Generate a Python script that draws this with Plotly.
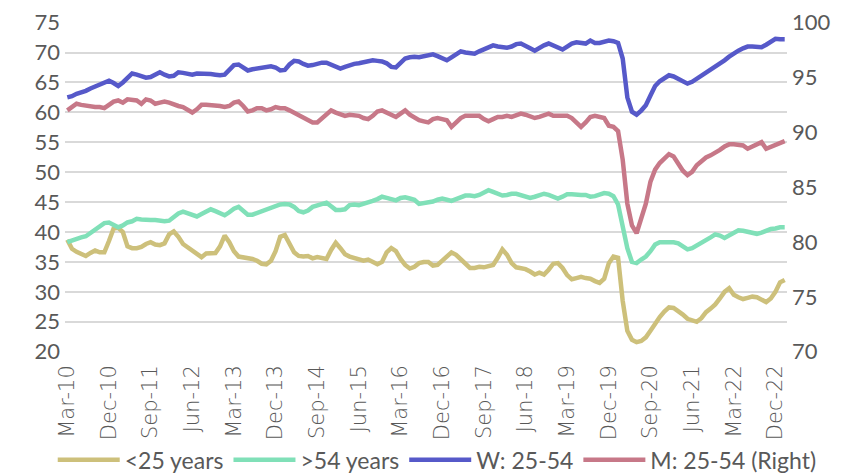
import pandas as pd
import plotly.graph_objects as go

months = pd.date_range("2010-03-01", periods=156, freq="MS").strftime("%b-%y").tolist()
tick_labels = months[::9]

under25 = [38.7, 37.2, 36.7, 36.3, 36.0, 36.5, 36.9, 36.6, 36.6, 38.5,
           40.6, 40.7, 40.0, 37.6, 37.3, 37.3, 37.5, 38.0, 38.3, 37.9,
           37.8, 38.1, 39.6, 40.1, 39.2, 38.0, 37.4, 37.0, 36.3, 35.8,
           36.4, 36.5, 36.5, 37.6, 39.4, 38.3, 36.8, 35.9, 35.8, 35.7,
           35.5, 35.2, 34.7, 34.6, 35.2, 36.8, 39.2, 39.5, 38.0, 36.6,
           36.0, 35.9, 36.0, 35.6, 35.8, 35.7, 35.5, 37.0, 38.2, 37.3,
           36.3, 35.9, 35.7, 35.4, 35.2, 35.4, 35.0, 34.6, 35.0, 36.6,
           37.3, 36.8, 35.5, 34.5, 33.9, 34.2, 34.8, 35.0, 35.0, 34.4,
           34.5, 35.2, 36.1, 36.6, 36.2, 35.4, 34.8, 34.0, 34.0, 34.2,
           34.1, 34.3, 34.5, 35.7, 37.1, 36.2, 34.8, 34.1, 33.9, 33.8,
           33.4, 32.9, 33.2, 32.9, 33.7, 34.7, 34.8, 34.0, 32.8, 32.1,
           32.3, 32.5, 32.3, 32.2, 31.8, 31.5, 32.2, 34.8, 35.9, 35.7,
           28.5, 23.5, 22.0, 21.6, 21.8, 22.4, 23.5, 24.8, 25.8, 26.7,
           27.4, 27.3, 26.8, 26.2, 25.5, 25.2, 25.0, 25.6, 26.6, 27.2,
           27.9, 28.9, 30.0, 30.6, 29.5, 29.1, 28.8, 29.0, 29.2, 29.1,
           28.7, 28.3, 28.9, 30.0, 31.6, 32.0]

over54 = [38.3, 38.6, 39.0, 39.1, 39.3, 39.8, 40.4, 41.0, 41.5, 41.6,
          41.1, 40.8, 41.1, 41.6, 41.8, 42.2, 42.1, 42.0, 42.0, 42.0,
          41.9, 41.8, 41.9, 42.5, 43.1, 43.4, 43.1, 42.8, 42.6, 43.0,
          43.5, 43.8, 43.5, 43.1, 42.8, 43.3, 43.9, 44.2, 43.6, 42.9,
          42.9, 43.2, 43.5, 43.9, 44.2, 44.4, 44.6, 44.7, 44.6, 44.2,
          43.5, 43.3, 43.6, 44.2, 44.5, 44.8, 44.9, 44.3, 43.7, 43.7,
          43.8, 44.5, 44.6, 44.5, 44.7, 45.0, 45.2, 45.5, 45.9, 45.7,
          45.5, 45.3, 45.7, 45.8, 45.6, 45.4, 44.7, 44.8, 45.0, 45.1,
          45.4, 45.6, 45.4, 45.2, 45.5, 45.8, 46.1, 46.1, 46.0, 46.2,
          46.6, 47.0, 46.7, 46.3, 46.1, 46.2, 46.4, 46.4, 46.1, 45.8,
          45.7, 45.9, 46.2, 46.4, 46.2, 45.9, 45.6, 45.9, 46.3, 46.3,
          46.2, 46.2, 46.2, 45.9, 46.0, 46.3, 46.5, 46.4, 46.0, 44.6,
          40.6, 37.3, 35.0, 34.8, 35.4, 35.9, 36.8, 37.9, 38.3, 38.3,
          38.2, 38.3, 38.1, 37.6, 37.1, 37.3, 37.7, 38.1, 38.6, 39.1,
          39.6, 39.4, 39.0, 39.5, 40.0, 40.3, 40.2, 40.0, 39.9, 39.7,
          39.9, 40.3, 40.5, 40.6, 40.8, 40.8]

women_25_54 = [62.5, 62.7, 63.1, 63.3, 63.6, 64.0, 64.3, 64.5, 65.0, 65.3,
               64.9, 64.4, 65.0, 65.8, 66.5, 66.3, 66.0, 65.8, 65.9, 66.2,
               66.7, 66.3, 66.0, 66.1, 66.7, 66.6, 66.4, 66.3, 66.5, 66.5,
               66.5, 66.4, 66.3, 66.2, 66.3, 67.2, 67.9, 68.0, 67.5, 67.0,
               67.2, 67.3, 67.4, 67.6, 67.7, 67.5, 67.0, 67.1, 68.0, 68.6,
               68.5, 68.1, 67.8, 67.9, 68.1, 68.3, 68.3, 68.0, 67.6, 67.3,
               67.6, 67.9, 68.1, 68.2, 68.4, 68.5, 68.7, 68.6, 68.5, 68.2,
               67.6, 67.5, 68.2, 69.0, 69.2, 69.3, 69.2, 69.4, 69.6, 69.7,
               69.4, 69.0, 68.7, 69.2, 69.8, 70.2, 70.0, 69.9, 69.8, 70.2,
               70.6, 71.0, 71.2, 71.0, 70.9, 70.8, 71.0, 71.4, 71.5, 71.2,
               70.7, 70.3, 70.8, 71.2, 71.5, 71.2, 70.8, 70.5, 71.0, 71.5,
               71.7, 71.6, 71.5, 72.0, 71.6, 71.6, 71.8, 72.0, 71.9, 71.6,
               69.0, 62.5, 60.1, 59.6, 60.3, 61.2, 62.8, 64.4, 65.2, 65.7,
               66.2, 66.0, 65.6, 65.2, 64.8, 65.1, 65.6, 66.0, 66.5, 67.0,
               67.5, 68.1, 68.7, 69.3, 69.9, 70.3, 70.7, 71.0, 71.0, 70.9,
               70.9, 71.3, 71.9, 72.3, 72.2, 72.2]

men_25_54 = [92.0, 92.3, 92.6, 92.5, 92.4, 92.4, 92.3, 92.3, 92.2, 92.5,
             92.8, 92.9, 92.7, 93.0, 93.0, 92.9, 92.6, 93.0, 92.9, 92.6,
             92.7, 92.8, 92.7, 92.5, 92.4, 92.3, 92.1, 91.8, 92.1, 92.5,
             92.5, 92.5, 92.5, 92.4, 92.3, 92.4, 92.7, 92.8, 92.4, 91.9,
             92.0, 92.2, 92.2, 92.0, 92.1, 92.3, 92.2, 92.2, 92.0, 91.8,
             91.6, 91.4, 91.1, 90.9, 90.9, 91.3, 91.7, 92.0, 91.8, 91.6,
             91.5, 91.6, 91.6, 91.5, 91.3, 91.2, 91.5, 91.9, 92.0, 91.8,
             91.5, 91.4, 91.7, 92.0, 91.6, 91.3, 91.1, 91.0, 90.9, 91.2,
             91.3, 91.2, 91.1, 90.5, 90.9, 91.3, 91.5, 91.5, 91.5, 91.5,
             91.2, 91.0, 91.2, 91.4, 91.4, 91.5, 91.4, 91.6, 91.7, 91.6,
             91.5, 91.3, 91.4, 91.5, 91.7, 91.5, 91.5, 91.4, 91.5, 91.3,
             90.9, 90.5, 90.9, 91.4, 91.5, 91.4, 91.3, 90.6, 90.5, 90.1,
             87.5, 83.5, 81.5, 80.8, 82.0, 83.5, 85.5, 86.6, 87.2, 87.6,
             88.0, 87.8, 87.2, 86.5, 86.1, 86.4, 87.0, 87.4, 87.7, 87.9,
             88.1, 88.4, 88.7, 88.9, 88.9, 88.9, 88.8, 88.5, 88.7, 88.9,
             89.1, 88.5, 88.7, 88.8, 89.1, 89.2]

FONT = "Lato"
GREY = "#595959"
LW = 4.5

fig = go.Figure()
fig.add_trace(go.Scatter(x=months, y=under25, name="<25 years", mode="lines",
                         line=dict(color="#CDC07B", width=LW)))
fig.add_trace(go.Scatter(x=months, y=over54, name=">54 years", mode="lines",
                         line=dict(color="#80E0B8", width=LW)))
fig.add_trace(go.Scatter(x=months, y=women_25_54, name="W: 25-54", mode="lines",
                         line=dict(color="#5659C9", width=LW)))
fig.add_trace(go.Scatter(x=months, y=men_25_54, name="M: 25-54 (Right)", mode="lines",
                         line=dict(color="#C77888", width=LW), yaxis="y2"))

# the page body has an 8px default margin, so the figure is offset by 8px
fig.update_layout(
    width=854, height=474,
    margin=dict(l=57, r=75, t=14, b=130, autoexpand=False),
    paper_bgcolor="white", plot_bgcolor="white",
    font=dict(family=FONT, color=GREY, size=22),
    xaxis=dict(type="category", categoryorder="array", categoryarray=months,
               range=[-0.5, len(months) - 0.5], automargin=False,
               tickmode="array", tickvals=tick_labels, ticktext=tick_labels,
               tickangle=-90,
               tickfont=dict(family="DejaVu Sans", size=21, color=GREY, weight=300),
               ticklabelstandoff=8, ticklabeloverflow="allow",
               showgrid=False, showline=False, ticks="", zeroline=False),
    yaxis=dict(range=[19.95, 75.1], tickmode="array",
               tickvals=[20, 25, 30, 35, 40, 45, 50, 55, 60, 65, 70, 75],
               showgrid=True, automargin=False, ticklabeloverflow="allow",
               gridcolor="#D9D9D9", gridwidth=1.5, zeroline=False,
               ticklabelstandoff=4,
               tickfont=dict(size=22, color=GREY), ticks=""),
    yaxis2=dict(range=[69.97, 100.055], tickmode="array",
                tickvals=[70, 75, 80, 85, 90, 95, 100], overlaying="y", side="right",
                showgrid=False, zeroline=False, automargin=False,
                ticklabeloverflow="allow", ticklabelstandoff=4,
                tickfont=dict(size=22, color=GREY)),
    legend=dict(orientation="h", x=-0.017, xanchor="left", y=-0.327, yanchor="middle",
                font=dict(size=23, color=GREY), itemwidth=62,
                tracegroupgap=0, bgcolor="rgba(0,0,0,0)"),
    showlegend=True,
)

fig.write_html("out.html")
